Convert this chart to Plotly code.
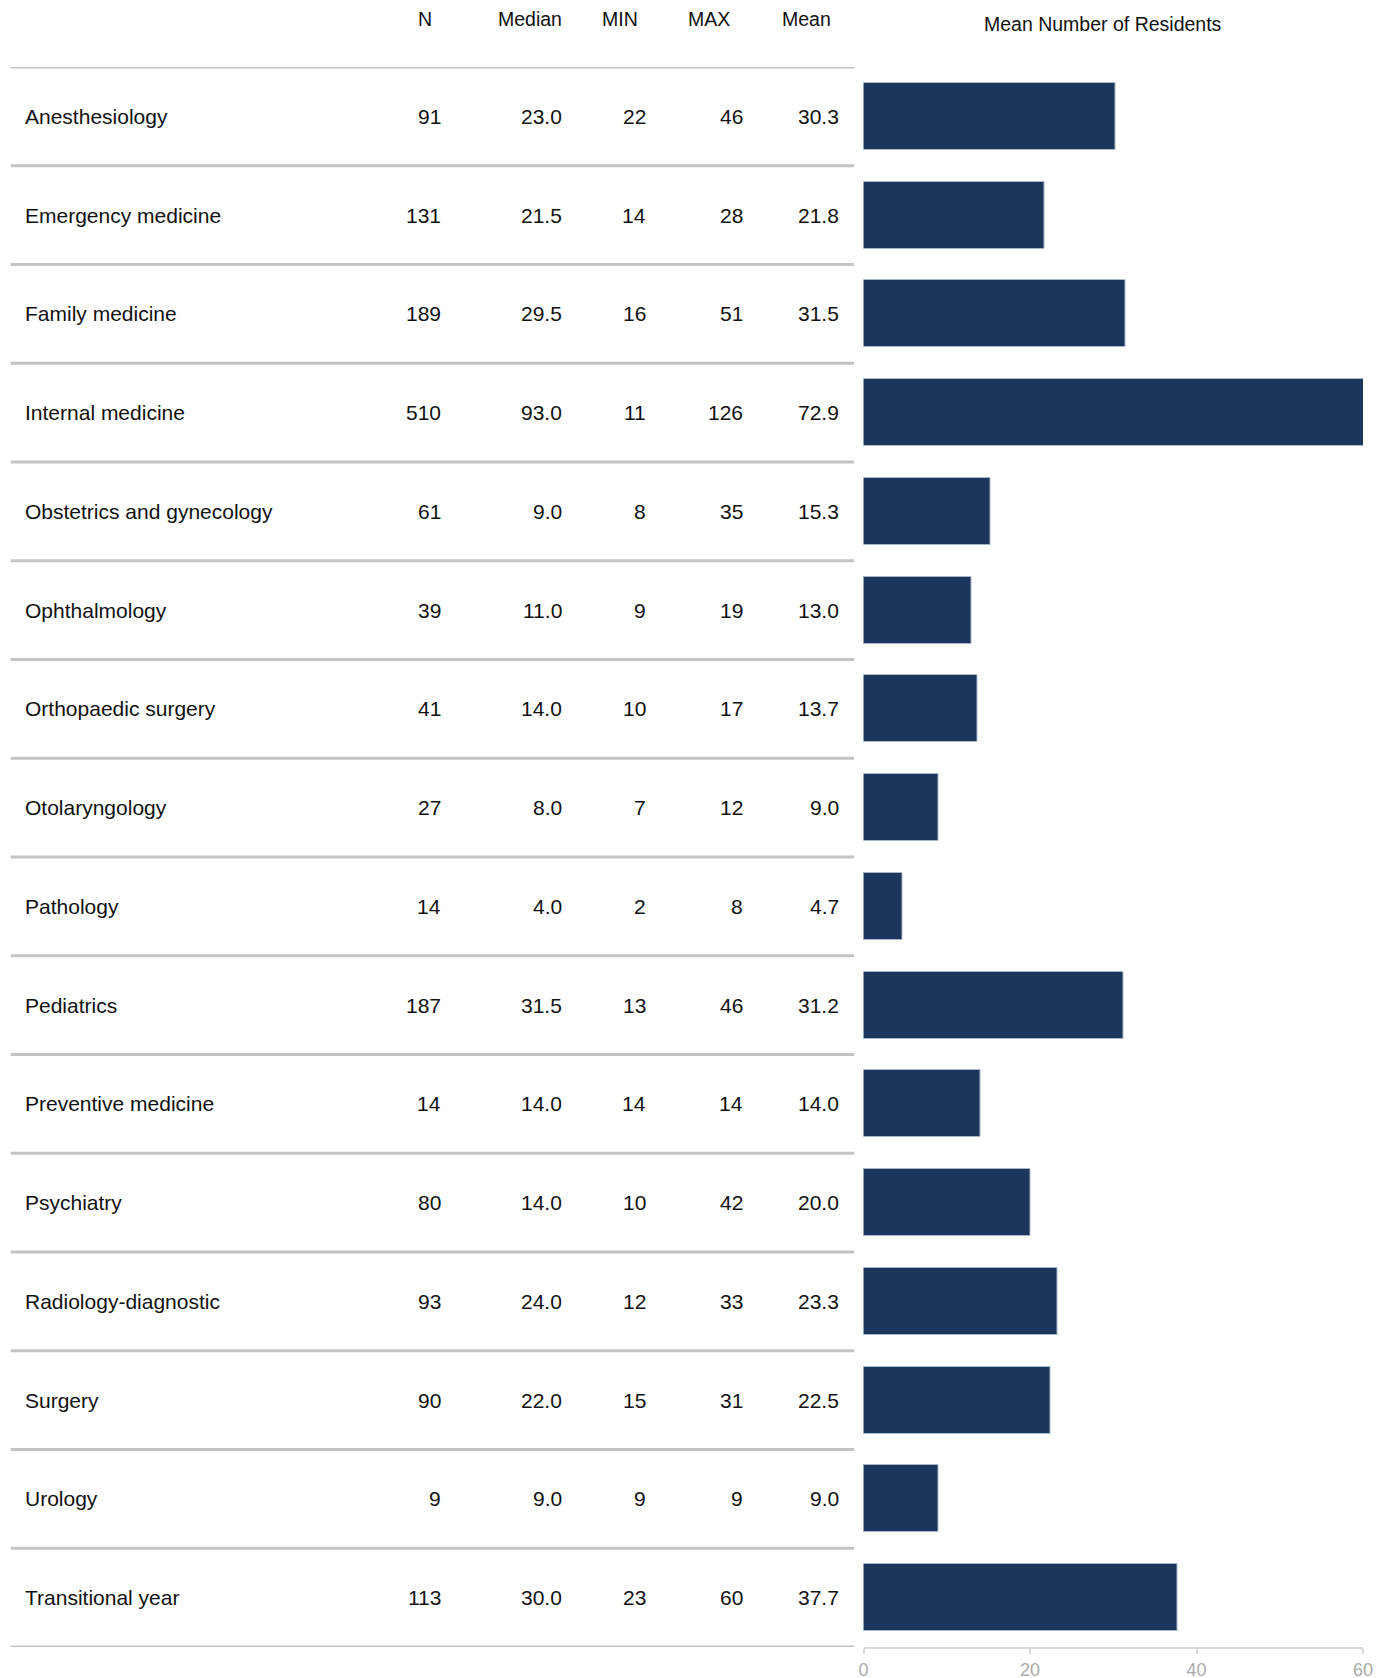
import plotly.graph_objects as go

specialties = ["Anesthesiology", "Emergency medicine", "Family medicine", "Internal medicine",
               "Obstetrics and gynecology", "Ophthalmology", "Orthopaedic surgery", "Otolaryngology",
               "Pathology", "Pediatrics", "Preventive medicine", "Psychiatry", "Radiology-diagnostic",
               "Surgery", "Urology", "Transitional year"]
n_vals = [91, 131, 189, 510, 61, 39, 41, 27, 14, 187, 14, 80, 93, 90, 9, 113]
median_vals = [23.0, 21.5, 29.5, 93.0, 9.0, 11.0, 14.0, 8.0, 4.0, 31.5, 14.0, 14.0, 24.0, 22.0, 9.0, 30.0]
min_vals = [22, 14, 16, 11, 8, 9, 10, 7, 2, 13, 14, 10, 12, 15, 9, 23]
max_vals = [46, 28, 51, 126, 35, 19, 17, 12, 8, 46, 14, 42, 33, 31, 9, 60]
mean_vals = [30.3, 21.8, 31.5, 72.9, 15.3, 13.0, 13.7, 9.0, 4.7, 31.2, 14.0, 20.0, 23.3, 22.5, 9.0, 37.7]
col_headers = ["N", "Median", "MIN", "MAX", "Mean"]
x_ticks = [0, 20, 40, 60]

W, H = 1383, 1670
OFF = 8  # page body margin
MT, MB = 67.4 - OFF, 31
FONT = "Liberation Sans, Arial, sans-serif"
BAR = "#1a365d"

def px(x):
    return (x - OFF) / W

fig = go.Figure()
fig.add_trace(go.Bar(
    x=mean_vals, y=list(range(len(specialties))), orientation="h",
    width=0.68, marker=dict(color=BAR, line=dict(color="#a9b8c9", width=1)),
    hoverinfo="skip", showlegend=False,
))

col_right = [px(443), px(564), px(648), px(745), px(841)]
col_center = [px(425), px(530), px(619.5), px(709), px(806)]
cols = [
    [str(v) for v in n_vals],
    [f"{v:.1f}" for v in median_vals],
    [str(v) for v in min_vals],
    [str(v) for v in max_vals],
    [f"{v:.1f}" for v in mean_vals],
]

ann = []
for i, name in enumerate(specialties):
    ann.append(dict(x=px(22.8), xref="paper", y=i, yref="y", text=name, showarrow=False,
                    xanchor="left", yanchor="middle", font=dict(size=21, color="#111", family=FONT)))
    for c, vals in enumerate(cols):
        ann.append(dict(x=col_right[c], xref="paper", y=i, yref="y", text=vals[i], showarrow=False,
                        xanchor="right", yanchor="middle", font=dict(size=21, color="#111", family=FONT)))

plot_h = H - MT - MB
def ypaper(px_from_top):
    return 1 + (MT - (px_from_top - OFF)) / plot_h

for c, h in enumerate(col_headers):
    ann.append(dict(x=col_center[c], xref="paper", y=ypaper(19.5), yref="paper", text=h, showarrow=False,
                    xanchor="center", yanchor="middle", font=dict(size=19.5, color="#111", family=FONT)))
ann.append(dict(x=px(1103), xref="paper", y=ypaper(24), yref="paper", text="Mean Number of Residents",
                showarrow=False, xanchor="center", yanchor="middle",
                font=dict(size=19.5, color="#111", family=FONT)))

shapes = []
for i in range(len(specialties) + 1):
    shapes.append(dict(type="line", xref="paper", yref="y", x0=px(10.7), x1=px(854),
                       y0=i - 0.5, y1=i - 0.5, line=dict(color="#c4c4c4", width=3)))

fig.update_layout(
    width=W, height=H,
    margin=dict(l=0, r=0, t=MT, b=MB, pad=0),
    paper_bgcolor="white", plot_bgcolor="white",
    annotations=ann, shapes=shapes,
    xaxis=dict(domain=[px(863.5), px(1363)], range=[0, 60], tickvals=x_ticks,
               showgrid=False, zeroline=False, showline=True, linecolor="#d9d9d9", linewidth=2,
               ticks="outside", ticklen=5, tickcolor="#d9d9d9", tickwidth=1.5,
               ticklabelstandoff=0,
               tickfont=dict(size=18, color="#aaaaaa", family=FONT), automargin=False),
    yaxis=dict(range=[len(specialties) - 0.5, -0.5], showticklabels=False, showgrid=False,
               zeroline=False, showline=False, ticks="", automargin=False),
    bargap=0,
)

fig.write_html("out.html")
